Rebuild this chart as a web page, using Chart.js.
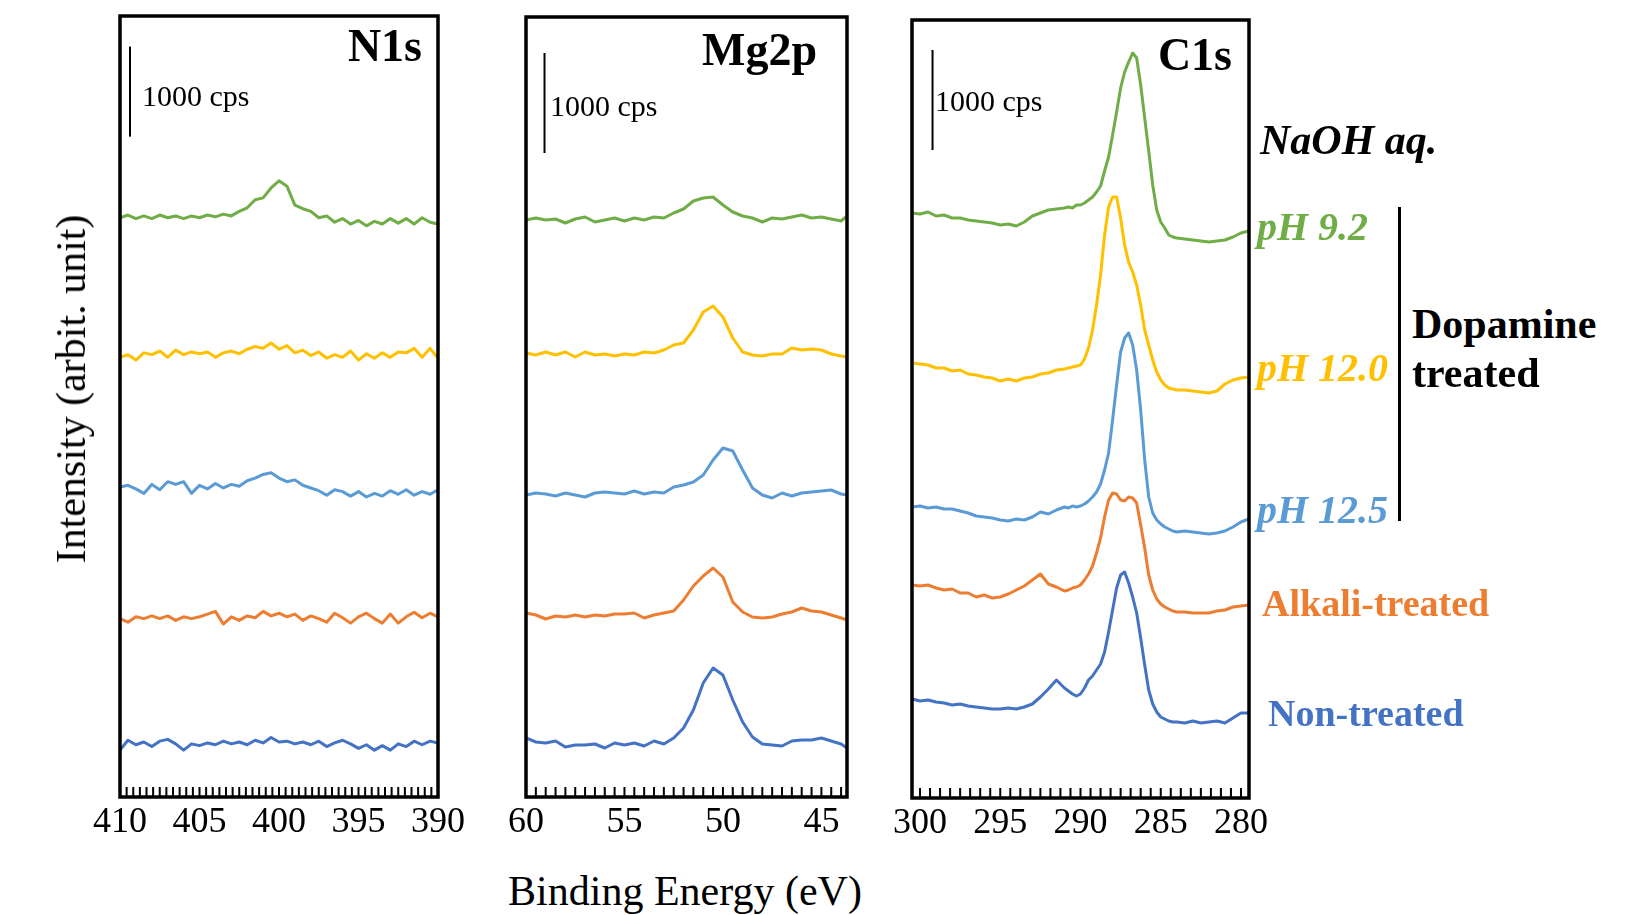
<!DOCTYPE html>
<html>
<head>
<meta charset="utf-8">
<script src="https://cdn.jsdelivr.net/npm/chart.js@4.4.0/dist/chart.umd.min.js"></script>
<style>
  html, body { margin: 0; padding: 0; background: #fff; }
  #page { position: relative; width: 1640px; height: 915px; overflow: hidden;
          font-family: 'Liberation Serif', 'Times New Roman', serif; color: #000; }
  canvas { position: absolute; }
  .t { position: absolute; line-height: 1; white-space: nowrap; transform: translateY(-50%); }
  .title { font-size: 46px; font-weight: bold; }
  .bar { font-size: 30px; }
  .side { font-size: 40px; font-weight: bold; }
  .it { font-style: italic; }
</style>
</head>
<body>
<div id="page">
  <canvas id="n1s"></canvas>
  <canvas id="mg2p"></canvas>
  <canvas id="c1s"></canvas>

  <div class="t title" style="right:1218px; top:46px;">N1s</div>
  <div class="t title" style="right:823px; top:50px;">Mg2p</div>
  <div class="t title" style="right:408px; top:55px;">C1s</div>

  <div class="t bar" style="left:142px; top:96px;">1000 cps</div>
  <div class="t bar" style="left:550px; top:106px;">1000 cps</div>
  <div class="t bar" style="left:935px; top:101px;">1000 cps</div>

  <div class="t side it" style="left:1260px; top:140px; font-size:42px;">NaOH aq.</div>
  <div class="t side it" style="left:1257px; top:227px; color:#70AD47;">pH 9.2</div>
  <div class="t side it" style="left:1257px; top:368px; color:#FFC000;">pH 12.0</div>
  <div class="t side it" style="left:1257px; top:510px; color:#5B9BD5;">pH 12.5</div>
  <div class="t side" style="left:1262px; top:603px; color:#ED7D31; font-size:38px;">Alkali-treated</div>
  <div class="t side" style="left:1268px; top:713px; color:#4472C4; font-size:38px;">Non-treated</div>
  <div style="position:absolute; left:1398px; top:207px; width:3px; height:314px; background:#000;"></div>
  <div class="t side" style="left:1412px; top:324px; font-size:42px;">Dopamine</div>
  <div class="t side" style="left:1412px; top:373px; font-size:42px;">treated</div>

  <div class="t" style="left:685px; top:891px; font-size:42px; transform:translate(-50%,-50%);">Binding Energy (eV)</div>
  <div class="t" style="left:71px; top:389px; font-size:42px; transform:translate(-50%,-50%) rotate(-90deg);">Intensity (arbit. unit)</div>
</div>

<script>
// XPS spectra, offset-stacked, intensity in cps
// series order: Non-treated, Alkali-treated, pH 12.5, pH 12.0, pH 9.2

// --- N1s ---
const n1sEnergy = [410, 409.5, 409, 408.5, 408, 407.5, 407, 406.5, 406, 405.5, 405, 404.5, 404, 403.5, 403,
  402.5, 402, 401.5, 401, 400.5, 400, 399.5, 399, 398.5, 398, 397.5, 397, 396.5, 396, 395.5, 395,
  394.5, 394, 393.5, 393, 392.5, 392, 391.5, 391, 390.5, 390];
const n1sNonTreated = [520, 630, 580, 610, 560, 620, 640, 590, 520, 590, 570, 600, 580, 620, 590,
  610, 580, 630, 600, 660, 610, 620, 590, 610, 580, 620, 560, 600, 630, 590, 540,
  580, 520, 570, 520, 590, 560, 620, 580, 620, 600];
const n1sAlkali = [1980, 1940, 2000, 1980, 2010, 1980, 2010, 1960, 2000, 1980, 2000, 2030, 2060, 1920, 2000,
  1960, 2010, 1990, 2060, 2010, 2040, 2000, 2030, 1960, 2010, 1980, 1940, 2040, 1990, 1930, 2000,
  2040, 1980, 1930, 2030, 1930, 2000, 2050, 1990, 2040, 2000];
const n1sPH125 = [3440, 3460, 3420, 3370, 3470, 3410, 3500, 3470, 3500, 3370, 3460, 3420, 3480, 3430, 3470,
  3450, 3510, 3540, 3580, 3600, 3540, 3500, 3520, 3460, 3430, 3400, 3350, 3410, 3390, 3340, 3390,
  3330, 3370, 3340, 3400, 3360, 3410, 3350, 3390, 3360, 3410];
const n1sPH120 = [4880, 4910, 4850, 4930, 4910, 4950, 4880, 4960, 4910, 4940, 4920, 4940, 4880, 4930, 4950,
  4920, 4970, 5000, 4980, 5040, 4970, 5010, 4930, 4960, 4900, 4940, 4870, 4910, 4880, 4950, 4850,
  4920, 4870, 4930, 4880, 4940, 4930, 4980, 4880, 4980, 4870];
const n1sPH92 = [6430, 6460, 6420, 6450, 6420, 6460, 6430, 6450, 6420, 6450, 6430, 6460, 6440, 6470, 6450,
  6500, 6540, 6630, 6650, 6760, 6840, 6780, 6570, 6530, 6500, 6430, 6450, 6380, 6420, 6360, 6400,
  6340, 6390, 6360, 6420, 6370, 6420, 6360, 6430, 6380, 6360];

// --- Mg2p ---
const mgEnergy = [60, 59.5, 59, 58.5, 58, 57.5, 57, 56.5, 56, 55.5, 55, 54.5, 54, 53.5, 53, 52.5, 52,
  51.5, 51, 50.5, 50, 49.5, 49, 48.5, 48, 47.5, 47, 46.5, 46, 45.5, 45, 44.5, 44, 43.7];
const mgNonTreated = [590, 550, 540, 560, 500, 520, 520, 530, 490, 540, 520, 540, 510, 560, 530, 590, 690,
  870, 1140, 1290, 1220, 970, 750, 600, 530, 520, 510, 560, 570, 570, 590, 560, 530, 490];
const mgAlkali = [1840, 1820, 1780, 1810, 1800, 1820, 1800, 1820, 1810, 1830, 1830, 1840, 1790, 1820, 1840, 1860, 1970,
  2110, 2210, 2290, 2200, 1950, 1850, 1800, 1790, 1800, 1830, 1850, 1890, 1860, 1850, 1820, 1790, 1770];
const mgPH125 = [3020, 3040, 3030, 3010, 3040, 3020, 3000, 3040, 3050, 3040, 3030, 3060, 3030, 3050, 3040, 3100, 3120,
  3150, 3220, 3370, 3490, 3460, 3270, 3090, 3020, 2990, 3040, 3010, 3040, 3050, 3060, 3070, 3030, 3020];
const mgPH120 = [4440, 4420, 4450, 4420, 4450, 4400, 4450, 4420, 4430, 4410, 4430, 4420, 4450, 4440, 4470, 4520, 4540,
  4670, 4850, 4910, 4800, 4590, 4450, 4420, 4410, 4430, 4430, 4490, 4470, 4480, 4470, 4430, 4410, 4400];
const mgPH92 = [5770, 5790, 5770, 5780, 5740, 5780, 5800, 5750, 5770, 5790, 5760, 5790, 5770, 5800, 5790, 5840, 5880,
  5960, 5990, 6000, 5920, 5850, 5810, 5790, 5750, 5790, 5780, 5800, 5820, 5790, 5800, 5780, 5760, 5810];

// --- C1s ---
const c1sEnergy = [300.5, 300, 299.5, 299, 298.5, 298, 297.5, 297, 296.5, 296, 295.5, 295, 294.5, 294, 293.5,
  293, 292.5, 292, 291.5, 291,
  290.75, 290.5, 290.25, 290, 289.75, 289.5, 289.25, 289, 288.75, 288.5, 288.25, 288, 287.75, 287.5,
  287.25, 287, 286.75, 286.5, 286.25, 286, 285.75, 285.5, 285.25, 285, 284.75, 284.5, 284.25, 284,
  283.5, 283, 282.5, 282, 281.5, 281, 280.5, 280, 279.5];
const c1sNonTreated = [990, 970, 980, 960, 950, 930, 940, 920, 910, 900, 890, 890, 900, 890, 910,
  940, 1010, 1090, 1180, 1100,
  1070, 1040, 1020, 1040, 1100, 1180, 1220, 1280, 1340, 1460, 1660, 1880, 2100, 2230,
  2260, 2150, 2010, 1850, 1600, 1330, 1080, 940, 860, 810, 790, 770, 760, 760,
  750, 770, 750, 760, 770, 750, 800, 850, 850];
const c1sAlkali = [2130, 2120, 2130, 2100, 2080, 2090, 2050, 2050, 2010, 2030, 2000, 2010, 2040, 2080, 2120,
  2180, 2240, 2140, 2110, 2070,
  2080, 2100, 2110, 2130, 2180, 2240, 2320, 2450, 2600, 2810, 2980, 3050, 3040, 2980,
  2970, 3010, 3000, 2950, 2730, 2500, 2230, 2080, 1990, 1940, 1910, 1890, 1870, 1860,
  1860, 1850, 1850, 1850, 1870, 1880, 1910, 1920, 1930];
const c1sPH125 = [2910, 2920, 2900, 2910, 2890, 2890, 2870, 2850, 2820, 2810, 2800, 2780, 2770, 2790, 2780,
  2810, 2860, 2840, 2880, 2910,
  2900, 2920, 2910, 2920, 2940, 2970, 3010, 3060, 3140, 3280, 3450, 3780, 4130, 4460,
  4600, 4650, 4530, 4280, 3880, 3380, 3010, 2850, 2780, 2740, 2710, 2690, 2670, 2660,
  2670, 2660, 2650, 2640, 2650, 2670, 2710, 2760, 2790];
const c1sPH120 = [4350, 4340, 4330, 4300, 4300, 4270, 4280, 4240, 4230, 4210, 4200, 4170, 4190, 4170, 4200,
  4210, 4240, 4250, 4280, 4290,
  4300, 4310, 4320, 4330, 4390, 4500, 4680, 4930, 5230, 5630, 5910, 6010, 6010, 5800,
  5530, 5360, 5260, 5130, 4930, 4680, 4530, 4380, 4260, 4180, 4130, 4100, 4090, 4080,
  4080, 4070, 4060, 4050, 4070, 4140, 4180, 4200, 4210];
const c1sPH92 = [5850, 5840, 5860, 5820, 5830, 5800, 5800, 5780, 5770, 5760, 5750, 5730, 5740, 5720, 5760,
  5820, 5850, 5880, 5890, 5900,
  5910, 5900, 5930, 5930, 5950, 5980, 6010, 6060, 6120, 6270, 6410, 6630, 6860, 7100,
  7260, 7360, 7450, 7400, 7130, 6800, 6470, 6130, 5880, 5760, 5700, 5630, 5610, 5600,
  5590, 5580, 5570, 5560, 5570, 5580, 5610, 5650, 5670];

// 1000 cps scale bars: [energy, lower end]
const n1sBar = [409.37, 7330];
const mgBar = [59.06, 6440];
const c1sBar = [299.22, 6480];

// Excel default palette
const colors = ['#4472C4', '#ED7D31', '#5B9BD5', '#FFC000', '#70AD47'];

// layout of the three frames (page px)
const PAD = 40, TOP = 10, AXIS_H = 60;

// inward minor ticks + box frame
const framePlugin = {
  id: 'frame',
  afterDatasetsDraw(chart, args, opts) {
    const { ctx, chartArea: a, scales: { x } } = chart;
    ctx.save();
    ctx.strokeStyle = '#000';
    ctx.lineWidth = 2;
    ctx.beginPath();
    for (let v = opts.from; v >= x.min - 1e-6; v -= opts.step) {
      const px = x.getPixelForValue(v);
      ctx.moveTo(px, a.bottom);
      ctx.lineTo(px, a.bottom - 10);
    }
    ctx.stroke();
    ctx.lineWidth = 3.5;
    ctx.strokeRect(a.left, a.top, a.right - a.left, a.bottom - a.top);
    ctx.restore();
  }
};

function makePanel(id, box, xMin, xMax, yMax, energy, series, bar, minor) {
  const canvas = document.getElementById(id);
  canvas.width = box.right - box.left + 2 * PAD;
  canvas.height = TOP + (box.bottom - box.top) + AXIS_H;
  canvas.style.left = (box.left - PAD) + 'px';
  canvas.style.top = (box.top - TOP) + 'px';

  const datasets = series.map((vals, k) => ({
    data: energy.map((e, i) => ({ x: e, y: vals[i] })),
    borderColor: colors[k],
    borderWidth: 3,
    borderJoinStyle: 'round',
    pointRadius: 0,
    tension: 0,
  }));
  datasets.push({
    data: [{ x: bar[0], y: bar[1] }, { x: bar[0], y: bar[1] + 1000 }],
    borderColor: '#000',
    borderWidth: 2,
    pointRadius: 0,
  });

  return new Chart(canvas, {
    type: 'line',
    data: { datasets },
    options: {
      responsive: false,
      animation: false,
      events: [],
      layout: { padding: { left: PAD, right: PAD, top: TOP, bottom: 0 } },
      plugins: {
        legend: { display: false },
        tooltip: { enabled: false },
        frame: minor,
      },
      scales: {
        x: {
          type: 'linear',
          reverse: true,
          min: xMin,
          max: xMax,
          grid: { display: false, drawTicks: false },
          border: { display: false },
          ticks: {
            stepSize: 5,
            includeBounds: false,
            autoSkip: false,
            maxRotation: 0,
            padding: 4,
            color: '#000',
            font: { family: 'Liberation Serif', size: 36 },
          },
          afterBuildTicks: s => {
            s.ticks = s.ticks.filter(t => Math.abs(t.value / 5 - Math.round(t.value / 5)) < 1e-6);
          },
          afterFit: s => { s.height = AXIS_H; },
        },
        y: { display: false, min: 0, max: yMax },
      },
    },
    plugins: [framePlugin],
  });
}

makePanel('n1s', { left: 120, top: 16, right: 438, bottom: 797 }, 390, 410, 8669, n1sEnergy,
  [n1sNonTreated, n1sAlkali, n1sPH125, n1sPH120, n1sPH92], n1sBar, { from: 410, step: 5 / 12 });
makePanel('mg2p', { left: 526, top: 17, right: 847, bottom: 797 }, 43.7, 60, 7800, mgEnergy,
  [mgNonTreated, mgAlkali, mgPH125, mgPH120, mgPH92], mgBar, { from: 60, step: 0.5 });
makePanel('c1s', { left: 912, top: 20, right: 1249, bottom: 798 }, 279.5, 300.5, 7780, c1sEnergy,
  [c1sNonTreated, c1sAlkali, c1sPH125, c1sPH120, c1sPH92], c1sBar, { from: 300, step: 0.625 });
</script>
</body>
</html>
